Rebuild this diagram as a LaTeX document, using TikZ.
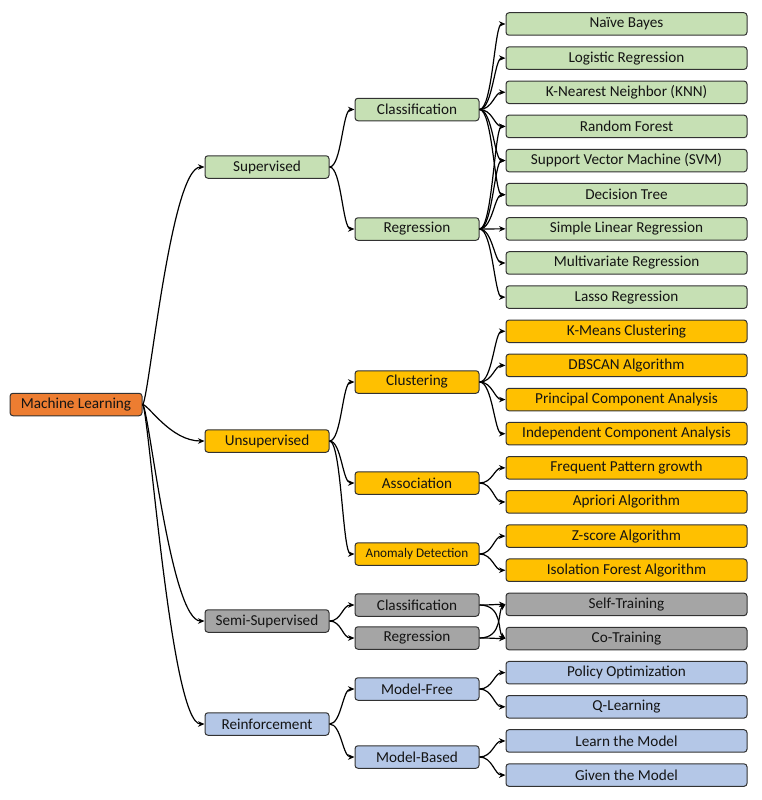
\documentclass[tikz,border=0pt]{standalone}
\usepackage{fontspec}
\setmainfont{Carlito}
\usetikzlibrary{arrows.meta}
\definecolor{cGreen}{RGB}{198,224,180}
\definecolor{cOrange}{RGB}{237,125,49}
\definecolor{cYellow}{RGB}{255,192,0}
\definecolor{cGray}{RGB}{165,165,165}
\definecolor{cBlue}{RGB}{180,199,231}
\definecolor{cEdge}{RGB}{50,50,50}
\definecolor{cText}{RGB}{20,20,20}
\begin{document}
\begin{tikzpicture}[x=1pt,y=-1pt,
  box/.style={draw=cEdge, line width=1pt, rounded corners=3pt, minimum height=22.5pt,
    inner sep=0pt, text=cText, font=\fontsize{15.2}{17}\selectfont, anchor=center},
  rootbox/.style={box, fill=cOrange, minimum width=132pt},
  lone/.style={box, minimum width=124pt},
  ltwo/.style={box, minimum width=124pt},
  leaf/.style={box, minimum width=241pt},
  conn/.style={line width=1.2pt, draw=black, -{Stealth[length=6.5pt,width=5.5pt]}}]
\useasboundingbox (0,0) rectangle (761,800);

% root
\node[rootbox] (ml) at (76,404.5) {Machine Learning};

% level 1
\node[lone, fill=cGreen]  (sup)  at (267,167) {Supervised};
\node[lone, fill=cYellow] (uns)  at (267,441) {Unsupervised};
\node[lone, fill=cGray]   (semi) at (267,621) {Semi-Supervised};
\node[lone, fill=cBlue]   (rein) at (267,724) {Reinforcement};

% level 2
\node[ltwo, fill=cGreen]  (scla) at (417,109.5) {Classification};
\node[ltwo, fill=cGreen]  (sreg) at (417,229) {Regression};
\node[ltwo, fill=cYellow] (clu)  at (417,382) {Clustering};
\node[ltwo, fill=cYellow] (ass)  at (417,483) {Association};
\node[ltwo, fill=cYellow, font=\fontsize{13.2}{15}\selectfont] (ano) at (417,554) {Anomaly Detection};
\node[ltwo, fill=cGray]   (ccla) at (417,605) {Classification};
\node[ltwo, fill=cGray]   (creg) at (417,638) {Regression};
\node[ltwo, fill=cBlue]   (mf)   at (417,689) {Model-Free};
\node[ltwo, fill=cBlue]   (mb)   at (417,757) {Model-Based};

% leaves
\foreach \nm/\txt/\col [count=\i from 0] in {
  nb/Naïve Bayes/cGreen,
  lr/Logistic Regression/cGreen,
  knn/K-Nearest Neighbor (KNN)/cGreen,
  rf/Random Forest/cGreen,
  svm/Support Vector Machine (SVM)/cGreen,
  dt/Decision Tree/cGreen,
  slr/Simple Linear Regression/cGreen,
  mvr/Multivariate Regression/cGreen,
  las/Lasso Regression/cGreen,
  km/K-Means Clustering/cYellow,
  db/DBSCAN Algorithm/cYellow,
  pca/Principal Component Analysis/cYellow,
  ica/Independent Component Analysis/cYellow,
  fp/Frequent Pattern growth/cYellow,
  apr/Apriori Algorithm/cYellow,
  zs/Z-score Algorithm/cYellow,
  iso/Isolation Forest Algorithm/cYellow,
  st/Self-Training/cGray,
  ct/Co-Training/cGray,
  po/Policy Optimization/cBlue,
  ql/Q-Learning/cBlue,
  ltm/Learn the Model/cBlue,
  gtm/Given the Model/cBlue}
  \node[leaf, fill=\col] (\nm) at (626.5,{24+34.14*\i}) {\txt};

% connectors: root -> level 1
\foreach \t in {sup,uns,semi,rein}
  \draw[conn] (ml.east) .. controls +(6,0) and +(-34,0) .. (\t.west);

% level 1 -> level 2
\foreach \s/\t in {sup/scla,sup/sreg,uns/clu,uns/ass,uns/ano,semi/ccla,semi/creg,rein/mf,rein/mb}
  \draw[conn] (\s.east) .. controls +(12,0) and +(-12,0) .. (\t.west);

% level 2 -> leaves
\foreach \s/\t in {scla/nb,scla/lr,scla/knn,scla/rf,scla/svm,scla/dt,
                   sreg/rf,sreg/svm,sreg/dt,sreg/slr,sreg/mvr,sreg/las,
                   clu/km,clu/db,clu/pca,clu/ica,ass/fp,ass/apr,ano/zs,ano/iso,
                   ccla/st,creg/ct,mf/po,mf/ql,mb/ltm,mb/gtm}
  \draw[conn] (\s.east) .. controls +(13,0) and +(-11,0) .. (\t.west);

% semi-supervised crossing links
\draw[conn] (ccla.east) .. controls +(24,0) and +(-8,-6) .. (ct.west);
\draw[conn] (creg.east) .. controls +(24,0) and +(-8,6) .. (st.west);
\end{tikzpicture}
\end{document}
